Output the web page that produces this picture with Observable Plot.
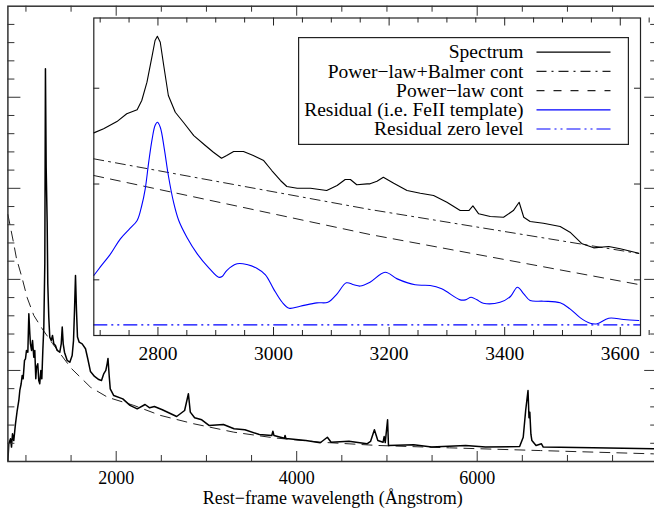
<!DOCTYPE html>
<html><head><meta charset="utf-8">
<script src="https://cdn.jsdelivr.net/npm/d3@7"></script>
<script src="https://cdn.jsdelivr.net/npm/@observablehq/plot@0.6"></script>
<style>
html,body{margin:0;padding:0;background:white;overflow:hidden;}
#wrap{position:relative;width:654px;height:508px;overflow:hidden;}
#wrap > svg, #wrap > div{position:absolute;left:0;top:0;}
#wrap svg{max-width:none !important;}
#wrap text{font-family:'Liberation Serif','Times New Roman',serif;}
</style></head>
<body><div id="wrap"></div>
<script>
// ---------- main spectrum (rest-frame wavelength, Å ; flux, arbitrary units) ----------
const mainWave = [800,810,829,840,851,865,884,903,921,932,947,958,969,984,995,1006,1021,1032,1043,1050,1062,1073,1087,1098,1109,1117,1131,1142,1153,1165,1176,1187,1198,1209,1216,1224,1235,1242,1253,1264,1280,1294,1309,1327,1346,1375,1391,1402,1413,1427,1457,1486,1512,1527,1538,1549,1560,1571,1590,1623,1660,1685,1715,1760,1807,1837,1863,1885,1900,1909,1922,1934,1973,2073,2153,2233,2320,2371,2423,2511,2670,2758,2800,2821,2869,2948,3028,3188,3306,3426,3586,3724,3736,3748,3864,3871,3881,4102,4261,4340,4381,4579,4779,4818,4861,4899,4957,4969,4981,5007,5017,5296,5495,5872,6092,6470,6510,6537,6563,6574,6583,6595,6606,6652,6712,6732,7285,7953,7995];
const mainFlux = [0.05,0.97,1.25,0.79,1.52,1.15,2.07,2.80,3.35,3.90,4.27,4.72,4.54,5.55,5.64,6.10,6.00,8.11,7.01,6.46,6.10,6.64,5.73,6.10,4.54,5.18,5.37,4.45,4.27,5.00,4.54,6.10,7.38,10.86,21.57,16.16,13.14,9.76,7.92,6.83,6.64,6.92,6.46,6.37,6.10,6.00,6.46,7.38,6.46,6.00,5.55,5.45,5.82,6.64,8.29,10.21,8.29,6.83,6.55,6.46,6.19,5.64,4.94,4.67,4.50,4.45,4.83,5.00,5.38,5.66,4.72,3.99,3.62,3.44,3.08,2.89,3.13,2.95,3.02,2.84,2.47,2.80,3.72,2.71,2.40,2.29,1.98,2.03,1.80,1.74,1.48,1.43,1.66,1.43,1.28,1.43,1.26,1.15,1.03,1.33,1.06,1.11,0.97,1.10,1.74,1.15,1.06,1.37,1.04,2.29,0.88,0.92,0.79,0.88,0.79,0.82,1.33,2.80,3.90,2.40,2.71,1.50,1.15,0.88,0.97,0.79,0.75,0.70,0.70];
// power-law continuum drawn on the main panel
const plWave = [800,859,895,956,1014,1087,1180,1294,1505,1715,1904,2195,2491,2860,3303,3746,4264,4899,5693,6702,7953,8000];
const plFlux = [13.56,12.10,11.15,10.10,8.99,8.02,7.29,6.48,5.10,4.08,3.53,3.08,2.53,2.07,1.61,1.30,1.06,0.88,0.75,0.60,0.42,0.41];

// ---------- inset: zoom on 2690–3635 Å ----------
const insWave = [2689,2706,2729,2746,2764,2772,2781,2790,2795,2799,2804,2810,2818,2830,2844,2862,2882,2896,2910,2919,2931,2948,2965,2983,2997,3012,3023,3041,3064,3092,3110,3124,3133,3144,3162,3167,3179,3190,3208,3231,3254,3277,3300,3323,3338,3345,3355,3375,3398,3415,3425,3433,3444,3467,3496,3513,3534,3554,3580,3600,3632];
const insFlux = [2.534,2.576,2.652,2.733,2.775,2.872,3.063,3.341,3.498,3.543,3.480,3.237,2.924,2.749,2.645,2.506,2.402,2.332,2.269,2.297,2.339,2.339,2.297,2.245,2.141,2.037,1.974,1.956,1.956,1.932,1.984,2.047,2.047,1.992,2.002,2.002,2.029,2.071,2.008,1.932,1.904,1.880,1.810,1.723,1.723,1.772,1.689,1.661,1.653,1.723,1.810,1.653,1.609,1.591,1.556,1.497,1.376,1.334,1.348,1.324,1.278];
const balWave = [2689,3167,3632];
const balFlux = [2.263,1.734,1.275];
const insPlWave = [2689,3167,3632];
const insPlFlux = [2.089,1.473,0.951];
const resWave = [2689,2700,2718,2735,2752,2764,2772,2778,2784,2790,2795,2799,2804,2811,2818,2827,2836,2850,2868,2888,2905,2911,2919,2937,2954,2971,2986,3000,3015,3027,3046,3075,3094,3110,3126,3139,3150,3167,3193,3214,3245,3271,3291,3323,3332,3342,3352,3363,3392,3410,3422,3433,3444,3467,3496,3513,3531,3548,3560,3580,3606,3632];
const resFlux = [1.045,1.132,1.271,1.428,1.539,1.619,1.776,1.950,2.228,2.472,2.611,2.645,2.593,2.367,2.089,1.810,1.619,1.445,1.271,1.125,1.027,1.034,1.097,1.167,1.160,1.121,1.052,0.906,0.766,0.704,0.724,0.760,0.766,0.854,0.969,0.948,0.935,0.975,1.079,1.010,0.948,0.941,0.906,0.791,0.791,0.818,0.791,0.756,0.766,0.826,0.923,0.854,0.784,0.777,0.760,0.697,0.603,0.547,0.541,0.599,0.586,0.575];
const resZero = 0.530;

// ---------- ticks & labels ----------
const mainXMajor = [2000,4000,6000];
const mainXMinor = [1000,1500,2500,3000,3500,4500,5000,5500,6500,7000,7500];
const mainYMajor = [5,10,15,20];
const mainYMinor = [1,2,3,4,6,7,8,9,11,12,13,14,16,17,18,19,21,22,23,24];
const insXMajor = [2800,3000,3200,3400,3600];
const insXMinor = [2700,2750,2850,2900,2950,3050,3100,3150,3250,3300,3350,3450,3500,3550,3650];
const insYMajor = [1,2,3];
const xTitle = "Rest\u2212frame wavelength (\u00C5ngstrom)";
const legendLabels = ["Spectrum","Power\u2212law+Balmer cont","Power\u2212law cont","Residual (i.e. FeII template)","Residual zero level"];

const zip = (w, f) => w.map((d, i) => ({w: d, f: f[i]}));
const FONT = "'Liberation Serif', 'Times New Roman', serif";
const FS = 19.5;

// ---------- main panel ----------
const MW = 658, MH = 508, mL = 7.4, mR = 0.8, mT = 5.7, mB = 47;
const mIW = MW - mL - mR, mIH = MH - mT - mB;
const main = Plot.plot({
  width: MW, height: MH, marginLeft: mL, marginRight: mR, marginTop: mT, marginBottom: mB,
  x: {domain: [800, 8000], axis: null},
  y: {domain: [0, 25], axis: null},
  style: {fontFamily: FONT, background: "white", overflow: "visible", maxWidth: "none"},
  marks: [
    Plot.line(zip(plWave, plFlux), {x: "w", y: "f", stroke: "#222", strokeWidth: 1, strokeDasharray: "10,7"}),
    Plot.line(zip(mainWave, mainFlux), {x: "w", y: "f", stroke: "black", strokeWidth: 1.5}),
    Plot.tickX(mainXMinor, {x: d => d, insetTop: mIH - 6, stroke: "#333"}),
    Plot.tickX(mainXMajor, {x: d => d, insetTop: mIH - 10, stroke: "#333"}),
    Plot.tickX(mainXMinor, {x: d => d, insetBottom: mIH - 6, stroke: "#333"}),
    Plot.tickX(mainXMajor, {x: d => d, insetBottom: mIH - 10, stroke: "#333"}),
    Plot.tickY(mainYMinor, {y: d => d, insetRight: mIW - 7, stroke: "#333"}),
    Plot.tickY(mainYMajor, {y: d => d, insetRight: mIW - 13, stroke: "#333"}),
    Plot.tickY(mainYMinor, {y: d => d, insetLeft: mIW - 7, stroke: "#333"}),
    Plot.tickY(mainYMajor, {y: d => d, insetLeft: mIW - 13, stroke: "#333"}),
    Plot.frame({stroke: "#333", strokeWidth: 1.5}),
    Plot.text(mainXMajor, {x: d => d, text: d => String(d), frameAnchor: "bottom", lineAnchor: "middle", dy: 17, fontSize: 18, fill: "black"}),
    Plot.text([xTitle], {text: d => d, frameAnchor: "bottom", lineAnchor: "middle", dy: 36.9, fontSize: 18, fill: "black"})
  ]
});

// ---------- inset panel ----------
const iL = 93.3, iR = MW - 640, iT = 17.5, iB = MH - 335;
const iIW = MW - iL - iR, iIH = MH - iT - iB;
const inset = Plot.plot({
  width: MW, height: MH, marginLeft: iL, marginRight: iR, marginTop: iT, marginBottom: iB,
  x: {domain: [2689, 3635], axis: null},
  y: {domain: [0.419, 3.733], axis: null},
  style: {fontFamily: FONT, background: "transparent", overflow: "visible", maxWidth: "none"},
  marks: [
    Plot.frame({fill: "white"}),
    Plot.ruleY([resZero], {stroke: "blue", strokeWidth: 1.2, strokeDasharray: "14,4,2,4,2,4"}),
    Plot.line(zip(balWave, balFlux), {x: "w", y: "f", stroke: "#222", strokeWidth: 1, strokeDasharray: "10,5,2,5"}),
    Plot.line(zip(insPlWave, insPlFlux), {x: "w", y: "f", stroke: "#222", strokeWidth: 1, strokeDasharray: "10,7"}),
    Plot.line(zip(resWave, resFlux), {x: "w", y: "f", stroke: "blue", strokeWidth: 1.1, curve: "catmull-rom"}),
    Plot.line(zip(insWave, insFlux), {x: "w", y: "f", stroke: "black", strokeWidth: 1.1}),
    Plot.tickX(insXMinor, {x: d => d, insetTop: iIH - 5, stroke: "#222"}),
    Plot.tickX(insXMajor, {x: d => d, insetTop: iIH - 8, stroke: "#222"}),
    Plot.tickX(insXMinor, {x: d => d, insetBottom: iIH - 5, stroke: "#222"}),
    Plot.tickX(insXMajor, {x: d => d, insetBottom: iIH - 8, stroke: "#222"}),
    Plot.tickY(insYMajor, {y: d => d, insetRight: iIW - 6, stroke: "#222"}),
    Plot.tickY(insYMajor, {y: d => d, insetLeft: iIW - 6, stroke: "#222"}),
    Plot.frame({stroke: "#222", strokeWidth: 1.2}),
    Plot.text(insXMajor, {x: d => d, text: d => String(d), frameAnchor: "bottom", lineAnchor: "middle", dy: 18.5, fontSize: FS, fill: "black"})
  ]
});

const wrap = document.getElementById("wrap");
wrap.appendChild(main);
wrap.appendChild(inset);

// ---------- legend (inside inset, upper right) ----------
const styles = [
  {stroke: "black", dash: null},
  {stroke: "#222", dash: "10,5,2,5"},
  {stroke: "#222", dash: "8,9"},
  {stroke: "blue", dash: null},
  {stroke: "blue", dash: "14,4,2,4,2,4"}
];
const ns = "http://www.w3.org/2000/svg";
const leg = document.createElementNS(ns, "svg");
leg.setAttribute("width", 331); leg.setAttribute("height", 108);
leg.style.position = "absolute"; leg.style.left = "297.5px"; leg.style.top = "36.5px";
const box = document.createElementNS(ns, "rect");
box.setAttribute("x", 0.6); box.setAttribute("y", 0.6); box.setAttribute("width", 329.8); box.setAttribute("height", 106.8);
box.setAttribute("fill", "white"); box.setAttribute("stroke", "#222"); box.setAttribute("stroke-width", 1.2);
leg.appendChild(box);
legendLabels.forEach((lab, i) => {
  const cy = 15.2 + i * 19.2;
  const t = document.createElementNS(ns, "text");
  t.setAttribute("x", 225.5); t.setAttribute("y", cy); t.setAttribute("dy", "0.32em");
  t.setAttribute("text-anchor", "end"); t.setAttribute("font-size", FS);
  t.textContent = lab; leg.appendChild(t);
  const l = document.createElementNS(ns, "line");
  l.setAttribute("x1", 238.5); l.setAttribute("x2", 312.5); l.setAttribute("y1", cy); l.setAttribute("y2", cy);
  l.setAttribute("stroke", styles[i].stroke); l.setAttribute("stroke-width", 1.2);
  if (styles[i].dash) l.setAttribute("stroke-dasharray", styles[i].dash);
  leg.appendChild(l);
});
wrap.appendChild(leg);
</script></body></html>
